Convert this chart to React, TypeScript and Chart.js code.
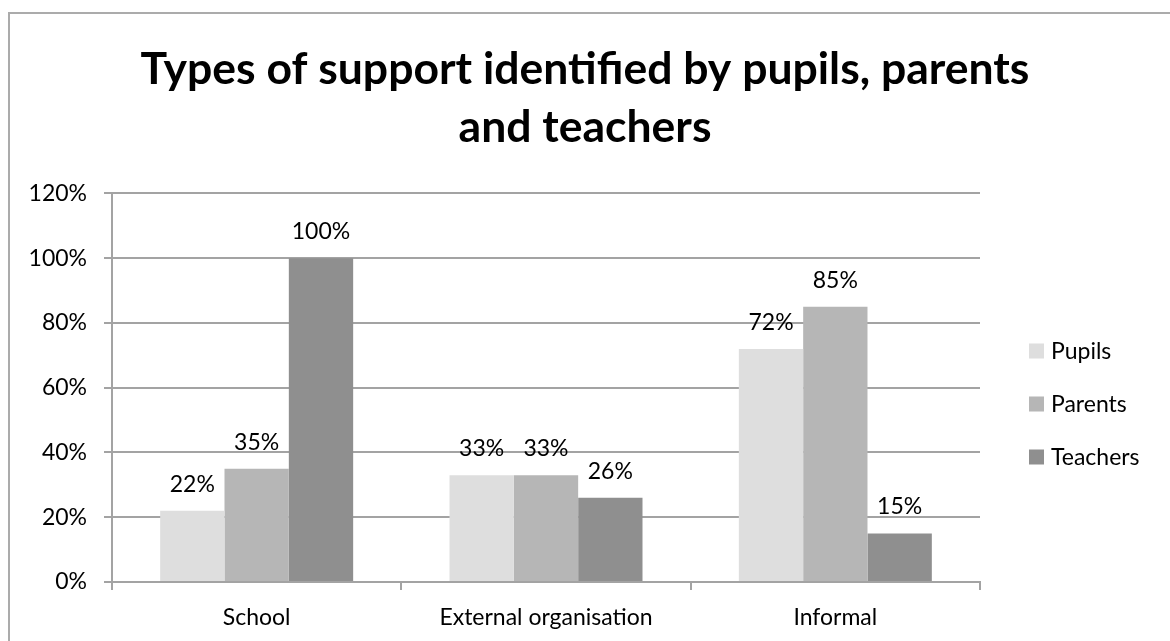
import React, { useEffect, useRef } from "react";
import { Chart, registerables } from "chart.js";

Chart.register(...registerables);

const categories = ["School", "External organisation", "Informal"];
const seriesNames = ["Pupils", "Parents", "Teachers"];
const pupils = [22, 33, 72];
const parents = [35, 33, 85];
const teachers = [100, 26, 15];
const seriesColors = ["#dedede", "#b6b6b6", "#8f8f8f"];
const yTicks = [0, 20, 40, 60, 80, 100, 120];
const titleLines = ["Types of support identified by pupils, parents", "and teachers"];

const FONT = "Lato, 'Open Sans', sans-serif";

const valueLabels = {
  id: "valueLabels",
  afterDatasetsDraw(chart: any) {
    const ctx = chart.ctx;
    ctx.save();
    ctx.font = `23px ${FONT}`;
    ctx.fillStyle = "#000";
    ctx.textAlign = "center";
    ctx.textBaseline = "alphabetic";
    chart.data.datasets.forEach((ds: any, i: number) => {
      const meta = chart.getDatasetMeta(i);
      meta.data.forEach((el: any, j: number) => {
        ctx.fillText(ds.data[j] + "%", el.x, el.y - 19);
      });
    });
    ctx.restore();
  },
};

const sideLegend = {
  id: "sideLegend",
  afterDraw(chart: any, _args: any, opts: any) {
    const ctx = chart.ctx;
    ctx.save();
    ctx.font = `23px ${FONT}`;
    ctx.textBaseline = "middle";
    ctx.textAlign = "left";
    const left = chart.chartArea.right + opts.offsetX;
    chart.data.datasets.forEach((ds: any, i: number) => {
      const cy = opts.startY + i * opts.spacing;
      ctx.fillStyle = ds.backgroundColor;
      ctx.fillRect(left, cy - 7.5, 15, 15);
      ctx.fillStyle = "#000";
      ctx.fillText(ds.label, left + 22, cy + 1);
    });
    ctx.restore();
  },
};

export default function App() {
  const ref = useRef<HTMLCanvasElement | null>(null);

  useEffect(() => {
    let chart: any = null;
    let cancelled = false;
    const make = () => {
      if (cancelled || !ref.current) return;
      chart = new Chart(ref.current, {
        type: "bar",
        data: {
          labels: categories,
          datasets: [pupils, parents, teachers].map((d, i) => ({
            label: seriesNames[i],
            data: d,
            backgroundColor: seriesColors[i],
            borderWidth: 0,
            categoryPercentage: 0.667,
            barPercentage: 1,
          })),
        },
        options: {
          responsive: false,
          animation: false,
          devicePixelRatio: 1,
          layout: { padding: { left: 0, right: 0, top: 0, bottom: 0 } },
          plugins: {
            legend: { display: false },
            tooltip: { enabled: false },
            title: {
              display: true,
              text: titleLines,
              color: "#000",
              font: { family: FONT, size: 44.5, weight: "bold", lineHeight: 1.32 },
              padding: { top: 40, bottom: 36 },
            },
            sideLegend: { offsetX: 49, startY: 351, spacing: 53 },
          } as any,
          scales: {
            x: {
              grid: { drawOnChartArea: false, drawTicks: true, tickLength: 8, color: "#a3a3a3", lineWidth: 2 },
              border: { display: true, color: "#a3a3a3", width: 2 },
              ticks: { color: "#000", font: { family: FONT, size: 23 }, padding: 14 },
              afterFit: (s: any) => { s.height = 59; },
            },
            y: {
              min: yTicks[0],
              max: yTicks[yTicks.length - 1],
              afterBuildTicks: (s: any) => { s.ticks = yTicks.map((v) => ({ value: v })); },
              grid: { color: "#a3a3a3", lineWidth: 2, tickLength: 8 },
              border: { display: true, color: "#a3a3a3", width: 2 },
              ticks: {
                color: "#000",
                font: { family: FONT, size: 23 },
                padding: 17,
                callback: (v: any) => v + "%",
              },
              afterFit: (s: any) => { s.width = 112; },
            },
            legendSpace: {
              type: "linear",
              position: "right",
              display: true,
              grid: { display: false },
              border: { display: false },
              ticks: { display: false },
              afterFit: (s: any) => { s.width = 190; },
            },
          } as any,
        },
        plugins: [valueLabels, sideLegend],
      } as any);
    };
    const fonts: any = (document as any).fonts;
    if (fonts && fonts.load) {
      Promise.all([fonts.load(`bold 44px Lato`), fonts.load(`23px Lato`)]).then(make, make);
    } else {
      make();
    }
    return () => {
      cancelled = true;
      if (chart) chart.destroy();
    };
  }, []);

  return (
    <div style={{ position: "absolute", left: 0, top: 0, width: 1170, height: 641, overflow: "hidden", background: "#fff" }}>
      <div
        style={{
          position: "absolute",
          left: 8,
          top: 12,
          width: 1400,
          height: 900,
          border: "2px solid #ababab",
          boxSizing: "border-box",
        }}
      />
      <canvas ref={ref} width={1170} height={641} style={{ position: "absolute", left: 0, top: 0, width: 1170, height: 641 }} />
    </div>
  );
}
